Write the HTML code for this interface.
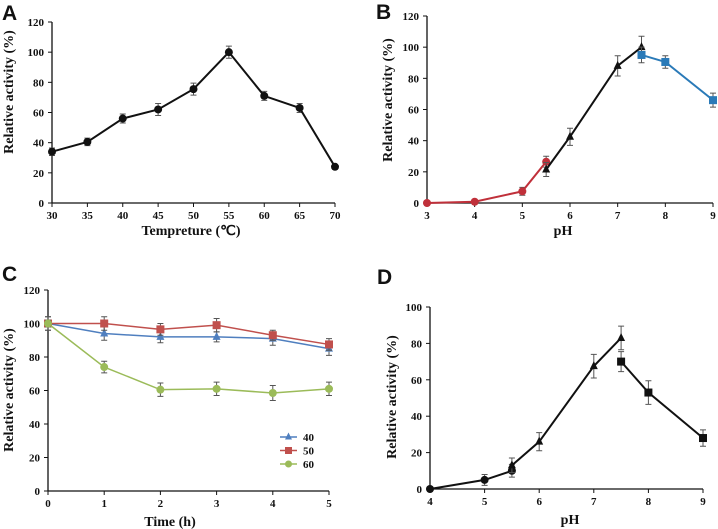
<!DOCTYPE html>
<html><head><meta charset="utf-8"><style>
body{margin:0;background:#fff}
svg{display:block}
text{font-family:"Liberation Serif",serif;font-weight:bold;fill:#111}
.pl{font-family:"Liberation Sans",sans-serif;font-weight:bold;font-size:21px}
</style></head><body>
<svg id="fig" width="718" height="529" viewBox="0 0 718 529" xmlns="http://www.w3.org/2000/svg"></svg>
<script>
// Panel A
const aX=[30,35,40,45,50,55,60,65,70];
const aY=[34,40.5,56,62,75.5,100,71,63,24];
const aE=[2.5,2.5,3,4,4,4,3,3,1];
// Panel B
const bRedX=[3,4,5,5.5], bRedY=[0,0.8,7.5,26.5], bRedE=[0,0.5,2.5,3.5];
const bBlkX=[5.5,6,7,7.5], bBlkY=[21.5,42.5,88,100], bBlkE=[4.5,5.5,6.5,7];
const bBluX=[7.5,8,9], bBluY=[95,90.5,66], bBluE=[5,4,4.5];
// Panel C
const cX=[0,1,2,3,4,5];
const c40=[100,94,92,92,91,85], c40E=[4,4,3.5,3,4,4];
const c50=[100,100,96.5,99,93,87.5], c50E=[4,4,3.5,4,3,3.5];
const c60=[100,74,60.5,61,58.5,61], c60E=[2,3.5,4,4,4.5,4];
// Panel D
const dCirX=[4,5,5.5], dCirY=[0,5,10], dCirE=[0,3,3.5];
const dTriX=[5.5,6,7,7.5], dTriY=[13,26,67.5,83], dTriE=[4,5,6.5,6.5];
const dSqX=[7.5,8,9], dSqY=[70,53,28], dSqE=[5.5,6.5,4.5];
const aTicksX=[30,35,40,45,50,55,60,65,70], bTicksX=[3,4,5,6,7,8,9], cTicksX=[0,1,2,3,4,5], dTicksX=[4,5,6,7,8,9];
const ticks120=[0,20,40,60,80,100,120], ticks100=[0,20,40,60,80,100];

const svg=document.getElementById('fig');
const NS='http://www.w3.org/2000/svg';
function el(tag,attrs,parent,name,txt){
  const e=document.createElementNS(NS,tag);
  for(const k in attrs)e.setAttribute(k,attrs[k]);
  
  
  if(txt!==undefined)e.textContent=txt;
  (parent||svg).appendChild(e);return e;
}
function panel(o){
  const g=el('g',{},svg,o.name);
  const sx=v=>o.x0+(v-o.xmin)/(o.xmax-o.xmin)*(o.x1-o.x0);
  const sy=v=>o.y0-(v-o.ymin)/(o.ymax-o.ymin)*(o.y0-o.y1);
  el('line',{x1:o.x0,y1:o.y0,x2:o.x0,y2:o.y1,stroke:'#111','stroke-width':1.3},g,'y-axis');
  el('line',{x1:o.x0,y1:o.y0,x2:o.x1,y2:o.y0,stroke:'#111','stroke-width':1.3},g,'x-axis');
  o.yt.forEach(v=>{el('line',{x1:o.x0-4,y1:sy(v),x2:o.x0,y2:sy(v),stroke:'#111'},g,'y-tick');
    el('text',{x:o.x0-8,y:sy(v)+4,'text-anchor':'end','font-size':11},g,'y-tick-label',v);});
  o.xt.forEach(v=>{el('line',{x1:sx(v),y1:o.y0,x2:sx(v),y2:o.y0+4,stroke:'#111'},g,'x-tick');
    el('text',{x:sx(v),y:o.y0+16,'text-anchor':'middle','font-size':11},g,'x-tick-label',v);});
  el('text',{x:o.xtx,y:o.xty,'text-anchor':'middle','font-size':14},g,'x-axis-title',o.xtitle);
  el('text',{x:o.ytx,y:o.yty,'text-anchor':'middle','font-size':14,transform:`rotate(-90 ${o.ytx} ${o.yty})`},g,'y-axis-title','Relative activity (%)');
  el('text',{x:o.lx,y:o.ly,class:'pl'},g,'panel-label',o.label);
  o.series.forEach(s=>{
    const sg=el('g',{},g,s.name);
    const pts=s.x.map((x,i)=>sx(x)+','+sy(s.y[i])).join(' ');
    s.x.forEach((x,i)=>{const e=s.e[i];if(!e)return;const X=sx(x);
      el('path',{d:`M${X},${sy(s.y[i]-e)}V${sy(s.y[i]+e)}M${X-3},${sy(s.y[i]-e)}h6M${X-3},${sy(s.y[i]+e)}h6`,stroke:'#555','stroke-width':1,fill:'none'},sg,'error-bar');});
    el('polyline',{points:pts,fill:'none',stroke:s.c,'stroke-width':s.w||2},sg,'series-line');
    s.x.forEach((x,i)=>marker(sg,s.m,sx(x),sy(s.y[i]),s.c,s.r||4));
  });
  return {sx,sy,g};
}
function marker(g,m,X,Y,c,r){
  if(m==='c')el('circle',{cx:X,cy:Y,r:r,fill:c},g,'point-marker');
  else if(m==='s')el('rect',{x:X-r,y:Y-r,width:2*r,height:2*r,fill:c},g,'point-marker');
  else el('polygon',{points:`${X},${Y-r-1} ${X-r},${Y+r-1} ${X+r},${Y+r-1}`,fill:c},g,'point-marker');
}
panel({name:'panel-a',label:'A',lx:2,ly:20,x0:52,x1:335,y0:203,y1:22,xmin:30,xmax:70,ymin:0,ymax:120,xt:aTicksX,yt:ticks120,
  xtitle:'Tempreture (℃)',xtx:191,xty:235,ytx:13,yty:92,
  series:[{name:'series-temperature',x:aX,y:aY,e:aE,c:'#111',m:'c'}]});
panel({name:'panel-b',label:'B',lx:376,ly:19,x0:427,x1:713,y0:203,y1:16,xmin:3,xmax:9,ymin:0,ymax:120,xt:bTicksX,yt:ticks120,
  xtitle:'pH',xtx:563,xty:235,ytx:392,yty:100,
  series:[{name:'series-red',x:bRedX,y:bRedY,e:bRedE,c:'#c0303a',m:'c'},
          {name:'series-black',x:bBlkX,y:bBlkY,e:bBlkE,c:'#111',m:'t'},
          {name:'series-blue',x:bBluX,y:bBluY,e:bBluE,c:'#2a7ab8',m:'s'}]});
panel({name:'panel-c',label:'C',lx:2,ly:281,x0:48,x1:329,y0:491,y1:290,xmin:0,xmax:5,ymin:0,ymax:120,xt:cTicksX,yt:ticks120,
  xtitle:'Time (h)',xtx:170,xty:526,ytx:13,yty:390,
  series:[{name:'series-40',x:cX,y:c40,e:c40E,c:'#4f7fbf',m:'t',w:1.5},
          {name:'series-50',x:cX,y:c50,e:c50E,c:'#c0504d',m:'s',w:1.5},
          {name:'series-60',x:cX,y:c60,e:c60E,c:'#9bbb59',m:'c',w:1.5}]});
const leg=[['40','#4f7fbf','t'],['50','#c0504d','s'],['60','#9bbb59','c']];
const lg=el('g',{},svg,'legend');
leg.forEach((L,i)=>{const y=437+i*13.5;const eg=el('g',{},lg,'legend-entry');
  el('line',{x1:280,y1:y,x2:297,y2:y,stroke:L[1],'stroke-width':1.5},eg,'legend-line');
  marker(eg,L[2],288.5,y,L[1],3.5);
  el('text',{x:303,y:y+4,'font-size':11},eg,'legend-label',L[0]);});
panel({name:'panel-d',label:'D',lx:377,ly:284,x0:430,x1:703,y0:489,y1:307,xmin:4,xmax:9,ymin:0,ymax:100,xt:dTicksX,yt:ticks100,
  xtitle:'pH',xtx:570,xty:524,ytx:396,yty:397,
  series:[{name:'series-circle',x:dCirX,y:dCirY,e:dCirE,c:'#111',m:'c'},
          {name:'series-triangle',x:dTriX,y:dTriY,e:dTriE,c:'#111',m:'t'},
          {name:'series-square',x:dSqX,y:dSqY,e:dSqE,c:'#111',m:'s'}]});
</script>
</body></html>
